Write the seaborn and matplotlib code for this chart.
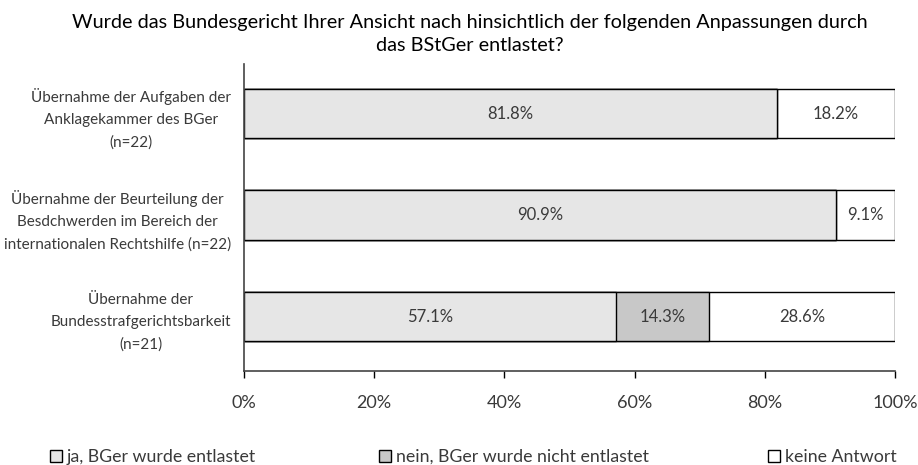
import matplotlib
matplotlib.use("Agg")
import matplotlib.pyplot as plt
import seaborn as sns
import pandas as pd
import numpy as np
from matplotlib.patches import Patch

sns.set_theme(style="white")
plt.rcParams['font.family'] = ['Lato', 'DejaVu Sans']

categories = [
    "Übernahme der Aufgaben der\nAnklagekammer des BGer\n(n=22)",
    "Übernahme der Beurteilung der\nBesdchwerden im Bereich der\ninternationalen Rechtshilfe (n=22)",
    "Übernahme der\nBundesstrafgerichtsbarkeit\n(n=21)",
]
ja = [81.8, 90.9, 57.1]
nein = [0.0, 0.0, 14.3]
keine = [18.2, 9.1, 28.6]
series_names = ["ja, BGer wurde entlastet", "nein, BGer wurde nicht entlastet", "keine Antwort"]
colors = ["#e6e6e6", "#c8c8c8", "#ffffff"]
xticks = [0, 20, 40, 60, 80, 100]
title = "Wurde das Bundesgericht Ihrer Ansicht nach hinsichtlich der folgenden Anpassungen durch\ndas BStGer entlastet?"

txt = "#3a3a3a"
fig = plt.figure(figsize=(9.18, 4.65), dpi=100)
ax = fig.add_axes([244/918, 1-371/465, (895-244)/918, (371-64)/465])

vals = np.array([ja, nein, keine])
cum = np.cumsum(vals, axis=0)
df = pd.DataFrame({"cat": categories})
for i in [2, 1, 0]:
    df["v"] = cum[i]
    sns.barplot(data=df, x="v", y="cat", order=categories, orient="h",
                color=colors[i], edgecolor="black", linewidth=1.0,
                width=0.49, saturation=1, ax=ax, errorbar=None)

for j in range(len(categories)):
    start = 0
    for i in range(3):
        v = vals[i][j]
        if v > 0:
            ax.text(start + v/2, j, f"{v:.1f}%", ha="center", va="center",
                    fontsize=12, color=txt)
        start += v

ax.set_xlim(0, 100)
ax.set_ylim(2.537, -0.488)
ax.set_xticks(xticks)
ax.set_xticklabels([f"{t}%" for t in xticks], fontsize=13, color=txt)
ax.set_yticks(range(len(categories)))
ax.set_yticklabels(categories, fontsize=11, color=txt, ha="right",
                   multialignment="center", linespacing=1.72)
ax.tick_params(axis="y", length=0, pad=9.5)
ax.tick_params(axis="x", length=5, width=1, color="black", direction="out", pad=12)
ax.xaxis.set_ticks_position("bottom")
ax.set_xlabel("")
ax.set_ylabel("")
for s in ["top", "right"]:
    ax.spines[s].set_visible(False)
for s in ["left", "bottom"]:
    ax.spines[s].set_color("#444444")
    ax.spines[s].set_linewidth(1.2)

fig.text(0.512, 0.969, title, ha="center", va="top", fontsize=14.3, color="black", linespacing=1.4)

legend_x = [50, 379, 768]
for i in range(3):
    h = Patch(facecolor=colors[i], edgecolor="black", linewidth=1.0)
    leg = fig.legend([h], [series_names[i]], loc="center left",
                     bbox_to_anchor=(legend_x[i]/918, 1-457/465),
                     frameon=False, fontsize=12.8, handlelength=0.7, handleheight=0.7,
                     handletextpad=0.25, borderaxespad=0, borderpad=0)
    for t in leg.get_texts():
        t.set_color(txt)

fig.savefig("out.png", dpi=100)
